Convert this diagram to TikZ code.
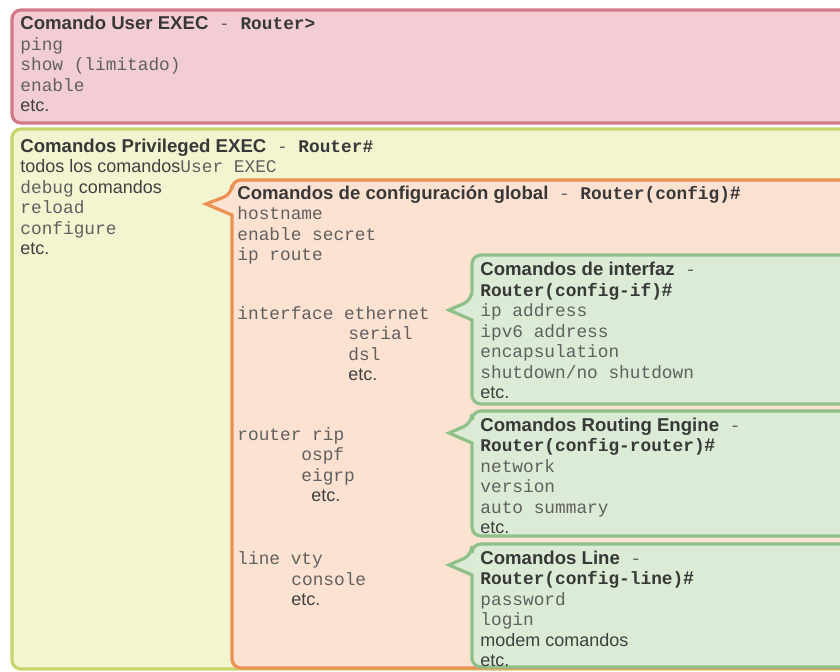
\documentclass[tikz,border=0pt]{standalone}
\usepackage{fontspec}
\setmainfont{Liberation Sans}
\setmonofont{Liberation Mono}

\definecolor{userfill}{HTML}{F2CDD4}
\definecolor{userline}{HTML}{D27A8A}
\definecolor{privfill}{HTML}{F3F4D0}
\definecolor{privline}{HTML}{C9D36B}
\definecolor{conffill}{HTML}{FDE2D2}
\definecolor{confline}{HTML}{ED9053}
\definecolor{subfill}{HTML}{DBEBD5}
\definecolor{subline}{HTML}{8FC08A}
\definecolor{headtext}{HTML}{383838}
\definecolor{bodytext}{HTML}{404040}
\definecolor{cmdtext}{HTML}{606060}

\newcommand{\cmd}[1]{{\ttfamily\fontsize{8.9}{10.25}\selectfont\color{cmdtext}#1}}
\newcommand{\prompt}[1]{{\ttfamily\bfseries\fontsize{8.9}{10.25}\selectfont\color{headtext}#1}}
\newcommand{\head}[1]{{\bfseries\fontsize{9.3}{10.25}\selectfont\color{headtext}#1}}

\begin{document}
\begin{tikzpicture}[x=0.5pt, y=-0.5pt,
    panel/.style={line width=1.6pt, rounded corners=4.5pt},
    txt/.style={anchor=north west, inner sep=0pt, align=left, font=\fontsize{9}{10.25}\selectfont, text=bodytext}
]
\clip (0,0) rectangle (840,671);

% nested mode panels
\draw[panel, fill=userfill, draw=userline] (12,10) rectangle (850,123);
\draw[panel, fill=privfill, draw=privline] (12,129) rectangle (850,669);
\draw[panel, fill=conffill, draw=confline] (232,194) [sharp corners] -- (206,204) -- (232,215) [rounded corners=4.5pt] -- (232,668) -- (850,668) -- (850,180) -- (232,180) -- cycle;
\draw[panel, fill=subfill, draw=subline] (472,300) [sharp corners] -- (449,310) -- (472,320) [rounded corners=4.5pt] -- (472,404) -- (850,404) -- (850,255) -- (472,255) -- cycle;
\draw[panel, fill=subfill, draw=subline] (472,423) [sharp corners] -- (449,433) -- (472,443) [rounded corners=4.5pt] -- (472,536) -- (850,536) -- (850,411) -- (472,411) -- cycle;
\draw[panel, fill=subfill, draw=subline] (472,555) [sharp corners] -- (449,565) -- (472,575) [rounded corners=4.5pt] -- (472,667) -- (850,667) -- (850,544) -- (472,544) -- cycle;

% texts
\node[txt] (usercmds) at (20,15.2) {\strut\head{Comando User EXEC}\cmd{\ -\ }\prompt{Router>}\\
  \cmd{ping}\\ \cmd{show (limitado)}\\ \cmd{enable}\\ etc.};
\node[txt] (privcmds) at (20,137.5) {\strut\head{Comandos Privileged EXEC}\cmd{\ -\ }\prompt{Router\#}\\
  todos los comandos\cmd{User EXEC}\\ \cmd{debug} comandos\\ \cmd{reload}\\ \cmd{configure}\\ etc.};
\node[txt] (globalcmds) at (237,184.5) {\strut\head{Comandos de configuración global}\cmd{\ -\ }\prompt{Router(config)}\head{\#}\\
  \cmd{hostname}\\ \cmd{enable secret}\\ \cmd{ip route}};
\node[txt] (ifacegrp) at (237,304.5) {\strut\cmd{interface ethernet}\\
  \hspace*{55.5pt}\cmd{serial}\\ \hspace*{55.5pt}\cmd{dsl}\\ \hspace*{55.5pt}etc.};
\node[txt] (routergrp) at (237,425.5) {\strut\cmd{router rip}\\
  \hspace*{32pt}\cmd{ospf}\\ \hspace*{32pt}\cmd{eigrp}\\ \hspace*{37pt}etc.};
\node[txt] (linegrp) at (237,550) {\strut\cmd{line vty}\\
  \hspace*{27pt}\cmd{console}\\ \hspace*{27pt}etc.};

\node[txt] (ifacecmds) at (480,261) {\strut\head{Comandos de interfaz}\cmd{\ -}\\
  \prompt{Router(config-if)}\head{\#}\\ \cmd{ip address}\\ \cmd{ipv6 address}\\ \cmd{encapsulation}\\ \cmd{shutdown/no shutdown}\\ etc.};
\node[txt] (routingcmds) at (480,416.5) {\strut\head{Comandos Routing Engine}\cmd{\ -}\\
  \prompt{Router(config-router)}\head{\#}\\ \cmd{network}\\ \cmd{version}\\ \cmd{auto summary}\\ etc.};
\node[txt] (linecmds) at (480,549.5) {\strut\head{Comandos Line}\cmd{\ -}\\
  \prompt{Router(config-line)}\head{\#}\\ \cmd{password}\\ \cmd{login}\\ modem comandos\\ etc.};
\end{tikzpicture}
\end{document}
